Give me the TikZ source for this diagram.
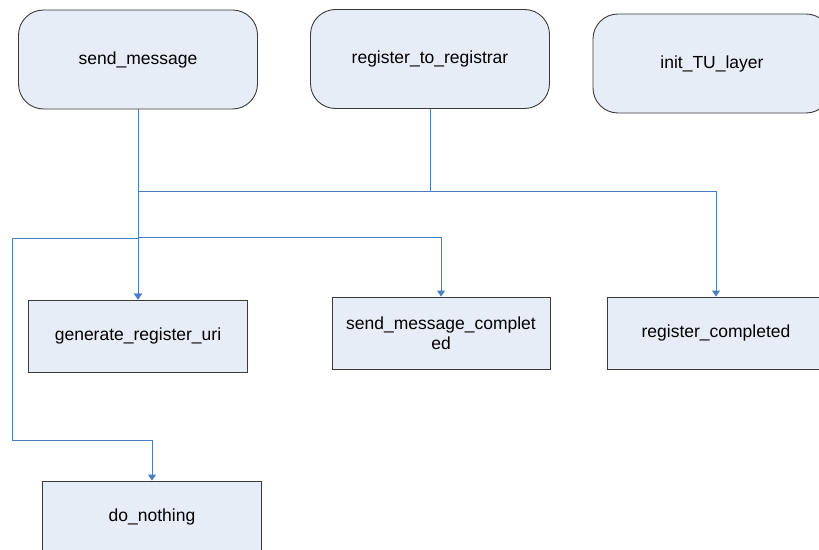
\documentclass[tikz,border=0pt]{standalone}
\usepackage{fontspec}
\setmainfont{Liberation Sans}
\usetikzlibrary{arrows.meta}
\definecolor{boxfill}{HTML}{E7EDF7}
\definecolor{boxline}{HTML}{3A3A3A}
\definecolor{connblue}{HTML}{4A7EC0}
\tikzset{
  base/.style={draw=boxline, line width=0.9bp, fill=boxfill, align=center,
    font=\fontsize{17.5bp}{20bp}\selectfont, inner sep=2bp},
  rbox/.style={base, rounded corners=25bp, minimum width=239bp, minimum height=99bp},
  sbox/.style={base, minimum width=219bp, minimum height=72bp},
  conn/.style={draw=connblue, line width=1bp, -{Triangle[width=8bp,length=6bp]}},
  plain/.style={draw=connblue, line width=1bp}
}
\begin{document}
\begin{tikzpicture}[x=1bp,y=-1bp]
\useasboundingbox (0,0) rectangle (819,550);
\node[rbox] (sm) at (138,59.5) {send\_message};
\node[rbox] (rr) at (430,59) {register\_to\_registrar};
\node[rbox, minimum width=238bp] (init) at (712,63.5) {init\_TU\_layer};
\node[sbox] (gen) at (138,336) {generate\_register\_uri};
\node[sbox, minimum width=218bp] (smc) at (441,333) {send\_message\_complet\\ed};
\node[sbox, minimum width=218bp] (rc) at (716,333) {register\_completed};
\node[sbox] (dn) at (152,517) {do\_nothing};
\coordinate (b1) at (12,239);
\coordinate (b2) at (12,440);
\draw[conn] (sm.south) -- (gen.north);
\draw[conn] (rr.south) -- ++(0,83) -| (gen.north);
\draw[conn] (rr.south) -- ++(0,83) -| (rc.north);
\draw[conn] (sm.south) -- ++(0,128) -| (smc.north);
\draw[conn] (sm.south) |- (b1) -- (b2) -| (dn.north);
\end{tikzpicture}
\end{document}
